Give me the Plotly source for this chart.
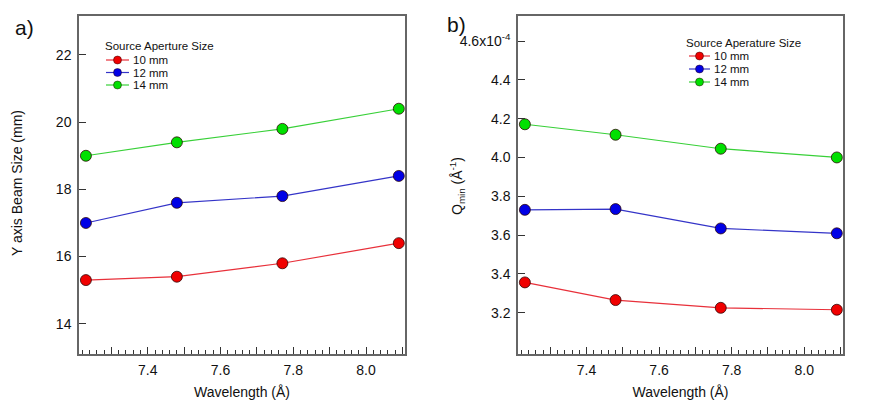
import plotly.graph_objects as go

# ---- data ----
wavelength = [7.23, 7.48, 7.77, 8.09]
series_names = ["10 mm", "12 mm", "14 mm"]
beam_10 = [15.3, 15.4, 15.8, 16.4]
beam_12 = [17.0, 17.6, 17.8, 18.4]
beam_14 = [19.0, 19.4, 19.8, 20.4]
qmin_10 = [3.356, 3.265, 3.225, 3.215]   # x 1e-4 1/Å
qmin_12 = [3.730, 3.734, 3.634, 3.609]
qmin_14 = [4.171, 4.117, 4.045, 4.000]
left_yticks = [14, 16, 18, 20, 22]
right_yticks = [3.2, 3.4, 3.6, 3.8, 4.0, 4.2, 4.4, 4.6]
right_yticktext = ["3.2", "3.4", "3.6", "3.8", "4.0", "4.2", "4.4", "4.6x10<sup>-4</sup>"]
xtickvals = [7.3, 7.4, 7.5, 7.6, 7.7, 7.8, 7.9, 8.0, 8.1]
xticktext = ["", "7.4", "", "7.6", "", "7.8", "", "8.0", ""]

marker_colors = ["#f00000", "#0000e6", "#00e000"]
line_colors = ["#e8303a", "#3434c8", "#38d038"]

W, H = 874, 402
FONT = "Liberation Sans, Arial, sans-serif"
AXCOL = "#666666"
TOP, BOT = 16, 354


def px(x):
    return x / W


def py(y):
    # paper y spans the plot area between TOP and BOT pixels
    return (BOT - y) / (BOT - TOP)


fig = go.Figure()
for name, ys, mc, lc in zip(series_names, [beam_10, beam_12, beam_14], marker_colors, line_colors):
    fig.add_trace(go.Scatter(x=wavelength, y=ys, mode="lines+markers", name=name,
                             line=dict(color=lc, width=1.2),
                             marker=dict(color=mc, size=11, line=dict(color="rgba(40,0,0,0.75)", width=1)),
                             xaxis="x", yaxis="y", showlegend=False))
for name, ys, mc, lc in zip(series_names, [qmin_10, qmin_12, qmin_14], marker_colors, line_colors):
    fig.add_trace(go.Scatter(x=wavelength, y=ys, mode="lines+markers", name=name,
                             line=dict(color=lc, width=1.2),
                             marker=dict(color=mc, size=11, line=dict(color="rgba(40,0,0,0.75)", width=1)),
                             xaxis="x2", yaxis="y2", showlegend=False))

xcommon = dict(range=[7.211, 8.107], tickmode="array", tickvals=xtickvals, ticktext=xticktext,
               ticks="inside", ticklen=7, tickwidth=1, tickcolor="#333333",
               minor=dict(dtick=0.02, tick0=7.2, ticks="inside", ticklen=4, tickcolor="#333333", tickwidth=1),
               showline=True, linecolor=AXCOL, linewidth=1.5, mirror=True, showgrid=False, zeroline=False,
               automargin=False, ticklabelstandoff=2,
               tickfont=dict(size=14, color="#111111", family=FONT),
               title=dict(text="Wavelength (Å)", font=dict(size=14, color="#111111", family=FONT), standoff=11))
ycommon = dict(ticks="inside", ticklen=7, tickwidth=1, tickcolor="#333333",
               showline=True, linecolor=AXCOL, linewidth=1.5, mirror=True, showgrid=False, zeroline=False,
               automargin=False,
               tickfont=dict(size=14, color="#111111", family=FONT), ticklabelstandoff=3)

fig.update_layout(
    width=W, height=H, margin=dict(l=0, r=0, t=TOP, b=H - BOT),
    paper_bgcolor="white", plot_bgcolor="white",
    font=dict(family=FONT, color="#111111"),
    xaxis=dict(xcommon, domain=[px(79), px(405)], anchor="y"),
    xaxis2=dict(xcommon, domain=[px(518), px(843)], anchor="y2"),
    yaxis=dict(ycommon, domain=[0, 1], anchor="x", range=[13.1, 23.16],
               tickmode="array", tickvals=left_yticks),
    yaxis2=dict(ycommon, domain=[0, 1], anchor="x2", range=[2.987, 4.729],
                tickmode="array", tickvals=right_yticks, ticktext=right_yticktext),
)

annotations = [
    dict(text="a)", x=px(24), y=py(27), xref="paper", yref="paper", xanchor="center", yanchor="middle",
         showarrow=False, font=dict(size=21, family=FONT, color="#111111")),
    dict(text="b)", x=px(456), y=py(24), xref="paper", yref="paper", xanchor="center", yanchor="middle",
         showarrow=False, font=dict(size=21, family=FONT, color="#111111")),
    dict(text="Y axis Beam Size (mm)", x=px(17), y=py(183), xref="paper", yref="paper", textangle=-90,
         xanchor="center", yanchor="middle", showarrow=False,
         font=dict(size=14, family=FONT, color="#111111")),
    dict(text="Q<sub>min</sub> (Å<sup>-1</sup>)", x=px(457), y=py(186), xref="paper", yref="paper",
         textangle=-90, xanchor="center", yanchor="middle", showarrow=False,
         font=dict(size=14, family=FONT, color="#111111")),
]
shapes = []


def add_legend(title, title_xy, line_x, text_x, ys):
    annotations.append(dict(text=title, x=px(title_xy[0]), y=py(title_xy[1]), xref="paper", yref="paper",
                            xanchor="left", yanchor="middle", showarrow=False, borderpad=0,
                            font=dict(size=11.5, family=FONT, color="#111111")))
    for name, yy, mc, lc in zip(series_names, ys, marker_colors, line_colors):
        shapes.append(dict(type="line", xref="paper", yref="paper", x0=px(line_x[0]), x1=px(line_x[1]),
                           y0=py(yy), y1=py(yy), line=dict(color=lc, width=1.2)))
        cx = (line_x[0] + line_x[1]) / 2
        shapes.append(dict(type="circle", xref="paper", yref="paper", xsizemode="pixel", ysizemode="pixel",
                           xanchor=px(cx), yanchor=py(yy), x0=-4, x1=4, y0=-4, y1=4,
                           fillcolor=mc, line=dict(color="rgba(40,0,0,0.6)", width=0.8)))
        annotations.append(dict(text=name, x=px(text_x), y=py(yy), xref="paper", yref="paper",
                                xanchor="left", yanchor="middle", showarrow=False, borderpad=0,
                                font=dict(size=11.5, family=FONT, color="#111111")))


add_legend("Source Aperture Size", (104, 46), (106, 129), 132, [60, 72.5, 85])
add_legend("Source Aperature Size", (685, 43), (689, 710), 713, [56, 69, 82])

fig.update_layout(annotations=annotations, shapes=shapes)
fig.write_html("out.html", config={"displayModeBar": False},
               post_script="document.body.style.margin='0';document.body.style.padding='0';")
